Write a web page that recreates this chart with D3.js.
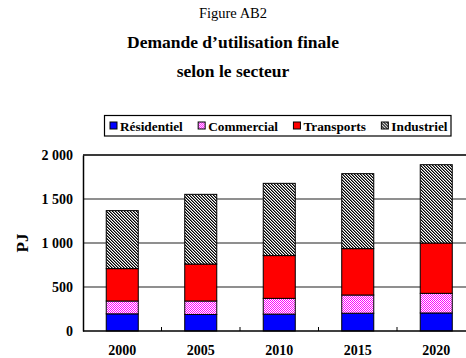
<!DOCTYPE html>
<html>
<head>
<meta charset="utf-8">
<script src="https://cdn.jsdelivr.net/npm/d3@7"></script>
<style>
  html, body { margin: 0; padding: 0; background: #fff; }
  svg { display: block; font-family: "Liberation Serif", "Times New Roman", serif; }
</style>
</head>
<body>
<svg id="chart" width="466" height="358"></svg>
<script>
// Final-use energy demand by sector, in petajoules
const years = ["2000", "2005", "2010", "2015", "2020"];
const residentiel = [195, 188, 192, 202, 205];
const commercial  = [146, 153, 179, 207, 223];
const transports  = [368, 420, 486, 527, 572];
const industriel  = [659, 792, 821, 852, 890];
const seriesNames = ["Résidentiel", "Commercial", "Transports", "Industriel"];
const yTicks = [0, 500, 1000, 1500, 2000];

const svg = d3.select("#chart");
const defs = svg.append("defs");

// Build a small pixel pattern; colourAt(x, y) returns a fill or null for background
function pixelPattern(id, size, bg, colourAt) {
  const p = defs.append("pattern").attr("id", id)
    .attr("patternUnits", "userSpaceOnUse").attr("width", size).attr("height", size);
  p.append("rect").attr("width", size).attr("height", size).attr("fill", bg);
  for (let yy = 0; yy < size; yy++) {
    for (let xx = 0; xx < size; xx++) {
      const c = colourAt(xx, yy);
      if (c) p.append("rect").attr("x", xx).attr("y", yy).attr("width", 1).attr("height", 1).attr("fill", c);
    }
  }
}
// Pink/white checker for the commercial sector
pixelPattern("patCommercial", 4, "#ffffff", (x, y) => (x + y) % 2 === 0 ? "#ff00ff" : null);
// Fine diagonal hatch for the industrial sector
pixelPattern("patIndustriel", 3, "#ffffff", (x, y) => {
  const k = (x - y + 6) % 3;
  return k === 0 ? "#000000" : k === 1 ? "#7a7a7a" : null;
});

const fills = ["#0000ff", "url(#patCommercial)", "#ff0000", "url(#patIndustriel)"];

// Titles
svg.append("text").attr("x", 233).attr("y", 18).attr("text-anchor", "middle")
  .attr("font-size", 14.5).text("Figure AB2");
svg.append("text").attr("x", 233).attr("y", 48).attr("text-anchor", "middle")
  .attr("font-size", 17.5).attr("font-weight", "bold").text("Demande d’utilisation finale");
svg.append("text").attr("x", 233).attr("y", 77).attr("text-anchor", "middle")
  .attr("font-size", 17.5).attr("font-weight", "bold").text("selon le secteur");

// Scales
const plotLeft = 83, plotTop = 155, plotBottom = 331;
const step = 78.5;
const x = d3.scaleBand().domain(years)
  .range([plotLeft, plotLeft + step * years.length])
  .paddingInner(0.592).paddingOuter(0.296);
const y = d3.scaleLinear().domain([0, 2000]).range([plotBottom, plotTop]);

// Gridlines
const g = svg.append("g");
g.selectAll("line.grid").data(yTicks.filter(v => v > 0 && v < 2000)).join("line")
  .attr("x1", plotLeft).attr("x2", 466)
  .attr("y1", d => y(d)).attr("y2", d => y(d))
  .attr("stroke", "#6a6a6a").attr("stroke-width", 1.4);
g.append("line").attr("x1", plotLeft).attr("x2", 466)
  .attr("y1", y(2000)).attr("y2", y(2000))
  .attr("stroke", "#3a3a3a").attr("stroke-width", 2);

// Stacked bars
const table = years.map((yr, i) => ({
  year: yr,
  "Résidentiel": residentiel[i],
  "Commercial": commercial[i],
  "Transports": transports[i],
  "Industriel": industriel[i]
}));
const stacked = d3.stack().keys(seriesNames)(table);

svg.append("g").selectAll("g").data(stacked).join("g")
  .attr("fill", (d, i) => fills[i])
  .selectAll("rect").data(d => d).join("rect")
  .attr("x", d => x(d.data.year))
  .attr("width", x.bandwidth())
  .attr("y", d => y(d[1]))
  .attr("height", d => y(d[0]) - y(d[1]))
  .attr("stroke", "#000").attr("stroke-width", 1);

// Y axis
const yAxis = d3.axisLeft(y).tickValues(yTicks).tickSize(0).tickPadding(10)
  .tickFormat(d => d3.format(",")(d).replace(",", " "));
const ya = svg.append("g").attr("transform", `translate(${plotLeft},0)`).call(yAxis);
ya.select(".domain").attr("stroke", "#000").attr("stroke-width", 1.5);
ya.selectAll("text").attr("font-family", "Liberation Serif").attr("font-weight", "bold")
  .attr("font-size", 14).attr("fill", "#000");

// X axis with inward ticks on category boundaries
const xa = svg.append("g").attr("transform", `translate(0,${plotBottom})`);
xa.append("line").attr("x1", plotLeft).attr("x2", 466).attr("y1", 0).attr("y2", 0)
  .attr("stroke", "#000").attr("stroke-width", 1.5);
xa.selectAll("line.tick").data(years.slice(1)).join("line")
  .attr("x1", d => x(d) - x.step() * x.paddingInner() / 2)
  .attr("x2", d => x(d) - x.step() * x.paddingInner() / 2)
  .attr("y1", 0).attr("y2", -4).attr("stroke", "#000").attr("stroke-width", 1);
xa.selectAll("text").data(years).join("text")
  .attr("x", d => x(d) + x.bandwidth() / 2).attr("y", 24)
  .attr("text-anchor", "middle").attr("font-weight", "bold").attr("font-size", 14)
  .text(d => d);

// Y axis title
svg.append("text").attr("transform", "translate(28,243) rotate(-90)")
  .attr("text-anchor", "middle").attr("font-weight", "bold").attr("font-size", 17)
  .text("PJ");

// Legend: swatch + label laid out left to right, spread to fill the box
const lg = svg.append("g");
const boxX = 104.5, boxW = 346.5;
lg.append("rect").attr("x", boxX).attr("y", 115.5).attr("width", boxW).attr("height", 20.5)
  .attr("fill", "#fff").attr("stroke", "#000").attr("stroke-width", 1.2);
const items = seriesNames.map((name, i) => {
  const it = lg.append("g");
  it.append("rect").attr("x", 0).attr("y", 122).attr("width", 7).attr("height", 7)
    .attr("fill", fills[i]).attr("stroke", "#000").attr("stroke-width", 1);
  const t = it.append("text").attr("x", 10).attr("y", 130.5)
    .attr("font-weight", "bold").attr("font-size", 13.3).text(name);
  return { g: it, w: 10 + t.node().getComputedTextLength() };
});
const startX = 110, endX = 447.5;
const totalW = d3.sum(items, d => d.w);
const gap = (endX - startX - totalW) / (items.length - 1);
let cx = startX;
items.forEach(it => {
  it.g.attr("transform", `translate(${cx},0)`);
  cx += it.w + gap;
});
</script>
</body>
</html>
